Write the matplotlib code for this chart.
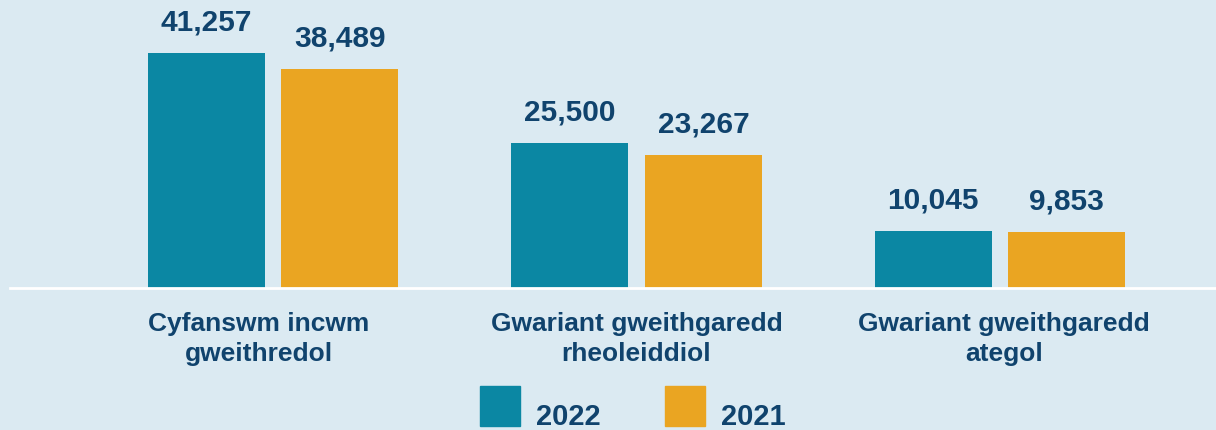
import numpy as np
import matplotlib
matplotlib.use("Agg")
import matplotlib.pyplot as plt
import matplotlib.transforms as mtransforms
from matplotlib.patches import Rectangle

categories = ["Cyfanswm incwm\ngweithredol",
              "Gwariant gweithgaredd\nrheoleiddiol",
              "Gwariant gweithgaredd\nategol"]
values_2022 = [41257, 25500, 10045]
values_2021 = [38489, 23267, 9853]
series_names = ["2022", "2021"]

BG = "#dbeaf2"
TEAL = "#0b87a3"
ORANGE = "#eaa522"
NAVY = "#10436d"

plt.rcParams["font.family"] = ["Liberation Sans", "DejaVu Sans"]
plt.rcParams["font.weight"] = "bold"

fig = plt.figure(figsize=(12.16, 4.30), dpi=100, facecolor=BG)
ax = fig.add_axes([10 / 1216, 142 / 430, 1206 / 1216, 288 / 430])
ax.set_facecolor(BG)

x = np.arange(len(categories))
w = 0.322
off = 0.184
b1 = ax.bar(x - off, values_2022, w, color=TEAL, zorder=2)
b2 = ax.bar(x + off, values_2021, w, color=ORANGE, zorder=2)

for bars, vals in ((b1, values_2022), (b2, values_2021)):
    for rect, v in zip(bars, vals):
        ax.annotate(f"{v:,}", (rect.get_x() + rect.get_width() / 2, v),
                    xytext=(0, 12), textcoords="offset points",
                    ha="center", va="bottom", fontsize=21.5,
                    fontweight="bold", color=NAVY)

ax.set_xlim(-263 / 363.5, 943 / 363.5)
ax.set_ylim(0, 50562)
ax.set_yticks([])
ax.set_xticks([])

# category labels below the baseline
label_shift = [-14, 0, 4]  # pixels
for xi, lab, dx in zip(x, categories, label_shift):
    tr = mtransforms.blended_transform_factory(ax.transData, ax.transAxes)
    tr = tr + mtransforms.ScaledTranslation(dx / 100, 0, fig.dpi_scale_trans)
    ax.text(xi, -24 / 288, lab, transform=tr, ha="center", va="top",
            fontsize=19, fontweight="bold", color=NAVY, linespacing=1.33)

for s in ("top", "right", "left"):
    ax.spines[s].set_visible(False)
ax.spines["bottom"].set_color("white")
ax.spines["bottom"].set_linewidth(2)
ax.spines["bottom"].set_zorder(3)

# legend: squares with labels sitting on their baseline
for px, col, name in ((480, TEAL, series_names[0]), (665, ORANGE, series_names[1])):
    fig.patches.append(Rectangle((px / 1216, 4 / 430), 40 / 1216, 40 / 430,
                                 transform=fig.transFigure, color=col))
    fig.text((px + 56) / 1216, 5 / 430, name, fontsize=21,
             fontweight="bold", color=NAVY, ha="left", va="baseline")

fig.savefig("out.png", dpi=100, facecolor=BG)
